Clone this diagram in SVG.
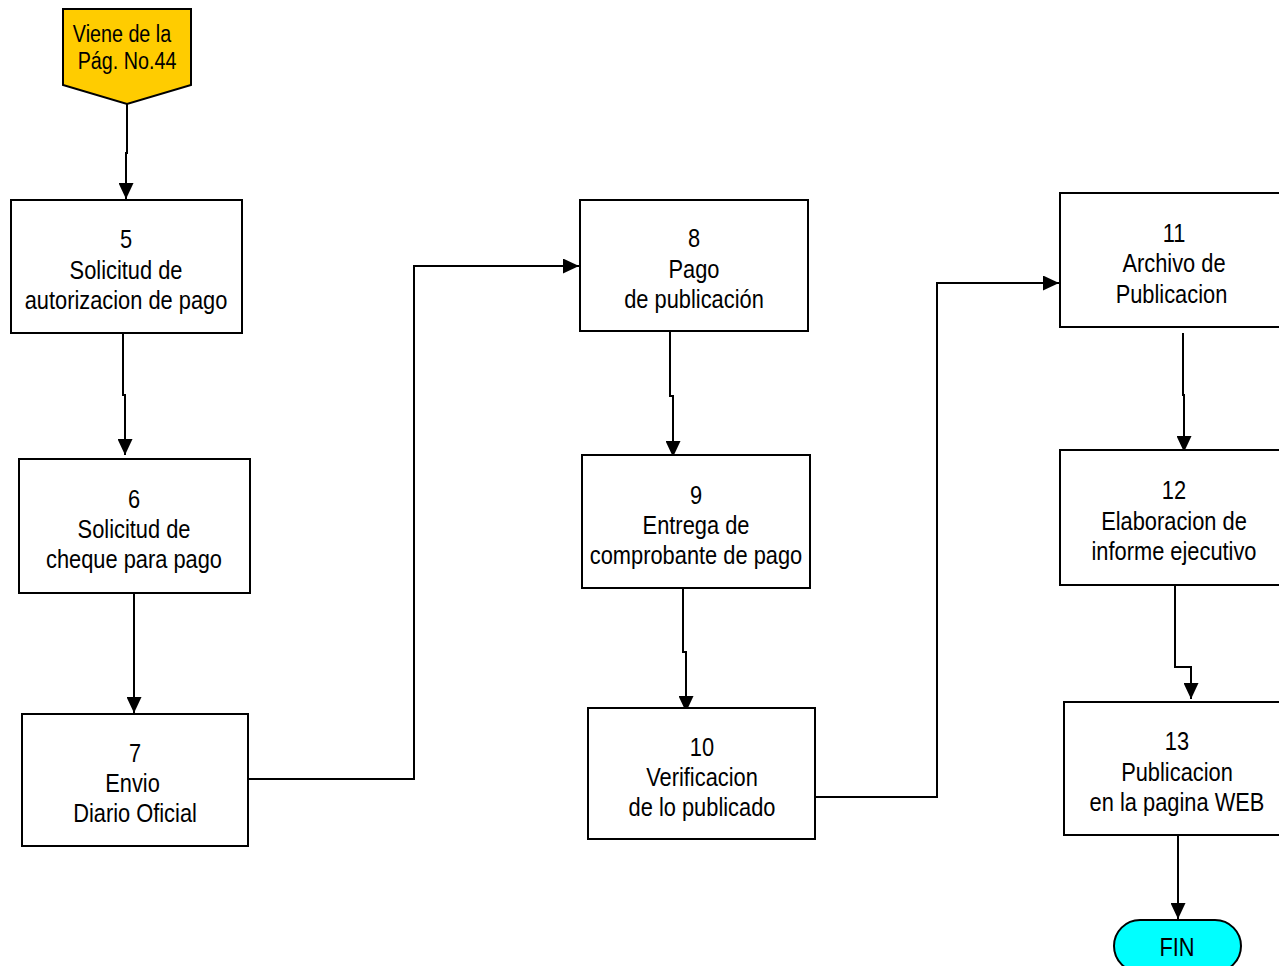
<svg xmlns="http://www.w3.org/2000/svg" width="1279" height="966" viewBox="0 0 1279 966">
<defs>
<marker id="arr" markerUnits="userSpaceOnUse" markerWidth="16" markerHeight="15" refX="16" refY="7.5" orient="auto">
<path d="M0,0 L16,7.5 L0,15 z" fill="#000"/>
</marker>
<style>
.box{fill:#fff;stroke:#000;stroke-width:2}
.t{font-family:"Liberation Sans",Arial,sans-serif;font-size:26px;fill:#000;text-anchor:middle}
.s{font-size:23.5px}
.c{fill:none;stroke:#000;stroke-width:2;marker-end:url(#arr)}
</style>
</defs>
<rect width="1279" height="966" fill="#fff"/>
<g id="connectors">
<path class="c" d="M127,104 V153 H126 V199"/>
<path class="c" d="M123,334 V395 H125 V455"/>
<path class="c" d="M134,593 V713"/>
<path class="c" d="M248,779 H414 V266 H579"/>
<path class="c" d="M670,331 V396 H673 V457"/>
<path class="c" d="M683,588 V652 H686 V712"/>
<path class="c" d="M815,797 H937 V283 H1059"/>
<path class="c" d="M1183,333 V395 H1184 V452"/>
<path class="c" d="M1175,585 V667 H1191 V699"/>
<path class="c" d="M1178,835 V919"/>
</g>
<g id="start">
<path d="M63,9 H191 V85 L127,104 L63,85 Z" fill="#FFCC00" stroke="#000" stroke-width="2"/>
<g transform="translate(122,0) scale(0.84,1)"><text class="t s" x="0" y="42">Viene de la</text></g>
<g transform="translate(127,0) scale(0.84,1)"><text class="t s" x="0" y="69">Pág. No.44</text></g>
</g>
<g id="n5">
<rect class="box" x="11" y="200" width="231" height="133"/>
<g transform="translate(126,0) scale(0.84,1)">
<text class="t" x="0" y="248">5</text>
<text class="t" x="0" y="279">Solicitud de</text>
<text class="t" x="0" y="309">autorizacion de pago</text>
</g>
</g>
<g id="n6">
<rect class="box" x="19" y="459" width="231" height="134"/>
<g transform="translate(134,0) scale(0.84,1)">
<text class="t" x="0" y="508">6</text>
<text class="t" x="0" y="538">Solicitud de</text>
<text class="t" x="0" y="568">cheque para pago</text>
</g>
</g>
<g id="n7">
<rect class="box" x="22" y="714" width="226" height="132"/>
<g transform="translate(135,0) scale(0.84,1)">
<text class="t" x="0" y="762">7</text>
<text class="t" x="-3" y="792">Envio</text>
<text class="t" x="0" y="822">Diario Oficial</text>
</g>
</g>
<g id="n8">
<rect class="box" x="580" y="200" width="228" height="131"/>
<g transform="translate(694,0) scale(0.84,1)">
<text class="t" x="0" y="247">8</text>
<text class="t" x="0" y="278">Pago</text>
<text class="t" x="0" y="308">de publicación</text>
</g>
</g>
<g id="n9">
<rect class="box" x="582" y="455" width="228" height="133"/>
<g transform="translate(696,0) scale(0.84,1)">
<text class="t" x="0" y="504">9</text>
<text class="t" x="0" y="534">Entrega de</text>
<text class="t" x="0" y="564">comprobante de pago</text>
</g>
</g>
<g id="n10">
<rect class="box" x="588" y="708" width="227" height="131"/>
<g transform="translate(702,0) scale(0.84,1)">
<text class="t" x="0" y="756">10</text>
<text class="t" x="0" y="786">Verificacion</text>
<text class="t" x="0" y="816">de lo publicado</text>
</g>
</g>
<g id="n11">
<rect class="box" x="1060" y="193" width="230" height="134"/>
<g transform="translate(1174,0) scale(0.84,1)">
<text class="t" x="0" y="242">11</text>
<text class="t" x="0" y="272">Archivo de</text>
<text class="t" x="-3" y="303">Publicacion</text>
</g>
</g>
<g id="n12">
<rect class="box" x="1060" y="450" width="230" height="135"/>
<g transform="translate(1174,0) scale(0.84,1)">
<text class="t" x="0" y="499">12</text>
<text class="t" x="0" y="530">Elaboracion de</text>
<text class="t" x="0" y="560">informe ejecutivo</text>
</g>
</g>
<g id="n13">
<rect class="box" x="1064" y="702" width="226" height="133"/>
<g transform="translate(1177,0) scale(0.84,1)">
<text class="t" x="0" y="750">13</text>
<text class="t" x="0" y="781">Publicacion</text>
<text class="t" x="0" y="811">en la pagina WEB</text>
</g>
</g>
<g id="fin">
<rect x="1114" y="920" width="127" height="52" rx="26" ry="26" fill="#00FFFF" stroke="#000" stroke-width="2"/>
<g transform="translate(1177,0) scale(0.84,1)">
<text class="t" x="0" y="956">FIN</text>
</g>
</g>
</svg>
